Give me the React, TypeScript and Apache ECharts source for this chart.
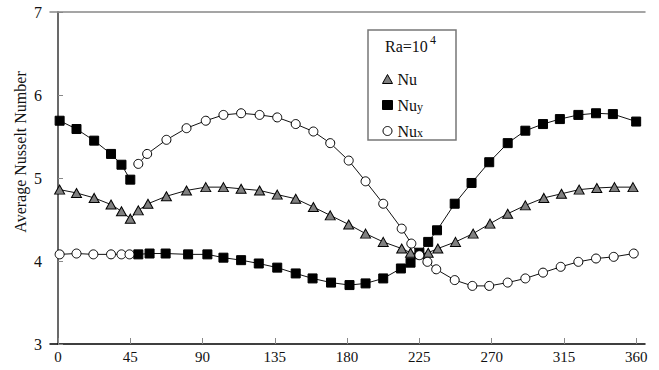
import React, { useEffect, useRef } from "react";
import * as echarts from "echarts";

// Angles (degrees) and values
const nuAngles = [1, 11.5, 22.5, 33, 39.5, 45, 50, 56, 67.5, 80, 92, 103, 114, 125.5, 136.5, 148, 159, 169.5, 181, 191.5, 202.5, 214, 219.5, 225, 230.5, 236.5, 247.5, 258.5, 269, 280, 291, 302.5, 313.5, 324.5, 335.5, 346.5, 358];
const nuValues = [4.86, 4.82, 4.76, 4.68, 4.60, 4.51, 4.61, 4.69, 4.78, 4.85, 4.89, 4.89, 4.87, 4.85, 4.80, 4.75, 4.65, 4.55, 4.44, 4.33, 4.23, 4.15, 4.10, 4.08, 4.10, 4.15, 4.23, 4.33, 4.45, 4.57, 4.67, 4.76, 4.81, 4.86, 4.88, 4.89, 4.89];

const nuyAngles = [1, 11.5, 22.5, 33, 39.5, 45, 47.5, 50, 57, 67, 81, 93, 103, 114, 125, 136.5, 148, 158.5, 170, 181.5, 191.5, 202.5, 213.5, 219.5, 225, 230.5, 236, 247, 257.5, 268.5, 280, 291, 302, 312.5, 324, 335, 345.5, 360];
const nuyValues: (number | string)[] = [5.69, 5.59, 5.45, 5.29, 5.16, 4.98, "-", 4.08, 4.09, 4.09, 4.08, 4.08, 4.04, 4.01, 3.97, 3.92, 3.85, 3.79, 3.74, 3.71, 3.73, 3.79, 3.91, 3.98, 4.10, 4.23, 4.37, 4.69, 4.94, 5.19, 5.42, 5.57, 5.65, 5.71, 5.76, 5.78, 5.77, 5.68];

const nuxAngles = [1, 11.5, 22, 33, 39.5, 44.5, 47.5, 50, 55.5, 67.5, 80, 92, 103, 114, 125.5, 136.5, 148, 159, 169.5, 181, 191.5, 202.5, 214, 220, 225, 230, 235.5, 247, 258, 268.5, 280, 291, 302, 313, 324, 335, 346, 358.5];
const nuxValues: (number | string)[] = [4.08, 4.09, 4.08, 4.08, 4.08, 4.08, "-", 5.17, 5.29, 5.46, 5.60, 5.69, 5.76, 5.78, 5.76, 5.73, 5.65, 5.56, 5.42, 5.21, 4.96, 4.69, 4.39, 4.21, 4.07, 3.99, 3.90, 3.77, 3.70, 3.70, 3.74, 3.79, 3.86, 3.93, 3.99, 4.03, 4.05, 4.09];

const xTicks = [0, 45, 90, 135, 180, 225, 270, 315, 360];
const yTicks = [3, 4, 5, 6, 7];

const zip = (a: number[], b: (number | string)[]) => a.map((x, i) => [x, b[i]]);

const FONT = "Liberation Serif";

export default function App() {
  const ref = useRef<HTMLDivElement>(null);
  useEffect(() => {
    if (!ref.current) return;
    const chart = echarts.init(ref.current, null, { renderer: "svg" });
    const lineStyle = { color: "#111", width: 1 };
    const subRich = {
      a: { fontFamily: FONT, fontSize: 16, color: "#111" },
      b: { fontFamily: FONT, fontSize: 12, color: "#111", padding: [3, 0, 0, 0] },
    };
    chart.setOption({
      animation: false,
      backgroundColor: "#fff",
      grid: { left: 50, top: 12, right: 14, bottom: 26, containLabel: false },
      xAxis: [
        {
          type: "value",
          min: -5,
          max: 365.5,
          position: "bottom",
          axisLine: { show: true, lineStyle: { color: "#000", width: 1.5 } },
          axisTick: { show: true, inside: true, length: 6, customValues: xTicks, lineStyle: { color: "#888" } },
          axisLabel: { customValues: xTicks, fontFamily: FONT, fontSize: 15, color: "#111", margin: 5 },
          splitLine: { show: false },
        },
        {
          type: "value",
          min: -5,
          max: 365.5,
          position: "top",
          axisLine: { show: true, lineStyle: { color: "#888", width: 1.5 } },
          axisTick: { show: false },
          axisLabel: { show: false },
          splitLine: { show: false },
        },
      ],
      yAxis: [
        {
          type: "value",
          min: 3,
          max: 7,
          interval: 1,
          position: "left",
          axisLine: { show: true, lineStyle: { color: "#888", width: 1.5 } },
          axisTick: { show: true, inside: true, length: 5, customValues: yTicks, lineStyle: { color: "#888" } },
          axisLabel: { fontFamily: FONT, fontSize: 16, color: "#111", margin: 8 },
          splitLine: { show: false },
        },
        {
          type: "value",
          min: 3,
          max: 7,
          interval: 1,
          position: "right",
          axisLine: { show: true, lineStyle: { color: "#555", width: 1.5 } },
          axisTick: { show: false },
          axisLabel: { show: false },
          splitLine: { show: false },
        },
      ],
      legend: {
        orient: "vertical",
        left: 377,
        top: 66,
        itemWidth: 10,
        itemHeight: 9,
        itemGap: 10,
        itemStyle: { borderColor: "#000", borderWidth: 1 },
        textStyle: { fontFamily: FONT, fontSize: 16, color: "#111", rich: subRich },
        formatter: (name: string) => (name === "Nu" ? "{a|Nu}" : "{a|Nu}{b|" + name.slice(2) + "}"),
        data: [
          { name: "Nu", icon: "triangle", itemStyle: { color: "#808080", borderColor: "#000", borderWidth: 1 } },
          { name: "Nuy", icon: "rect", itemStyle: { color: "#000", borderColor: "#000", borderWidth: 1 } },
          { name: "Nux", icon: "circle", itemStyle: { color: "#fff", borderColor: "#000", borderWidth: 1 } },
        ],
      },
      graphic: [
        {
          type: "rect",
          shape: { x: 368, y: 30, width: 88, height: 110 },
          style: { fill: "#fff", stroke: "#777", lineWidth: 1.5 },
          z: 0,
        },
        {
          type: "text",
          x: 385,
          y: 46,
          style: { text: "Ra=10", font: `16px "${FONT}"`, fill: "#111", textVerticalAlign: "middle" },
          z: 1,
        },
        {
          type: "text",
          x: 430,
          y: 40,
          style: { text: "4", font: `12px "${FONT}"`, fill: "#111", textVerticalAlign: "middle" },
          z: 1,
        },
        {
          type: "text",
          x: 20,
          y: 152,
          rotation: Math.PI / 2,
          style: {
            text: "Average Nusselt Number",
            font: `16px "${FONT}"`,
            fill: "#111",
            textAlign: "center",
            textVerticalAlign: "middle",
          },
        },
      ],
      series: [
        {
          name: "Nu",
          type: "line",
          data: zip(nuAngles, nuValues),
          symbol: "triangle",
          symbolSize: [10, 9],
          showAllSymbol: true,
          lineStyle,
          itemStyle: { color: "#808080", borderColor: "#000", borderWidth: 1 },
          z: 3,
        },
        {
          name: "Nuy",
          type: "line",
          data: zip(nuyAngles, nuyValues),
          symbol: "rect",
          symbolSize: 9,
          showAllSymbol: true,
          connectNulls: false,
          lineStyle,
          itemStyle: { color: "#000", borderColor: "#000", borderWidth: 1 },
          z: 4,
        },
        {
          name: "Nux",
          type: "line",
          data: zip(nuxAngles, nuxValues),
          symbol: "circle",
          symbolSize: 9,
          showAllSymbol: true,
          connectNulls: false,
          lineStyle,
          itemStyle: { color: "#fff", borderColor: "#000", borderWidth: 1 },
          z: 5,
        },
      ],
    });
    return () => chart.dispose();
  }, []);
  return <div ref={ref} style={{ position: "fixed", left: 0, top: 0, width: 659, height: 370 }} />;
}
